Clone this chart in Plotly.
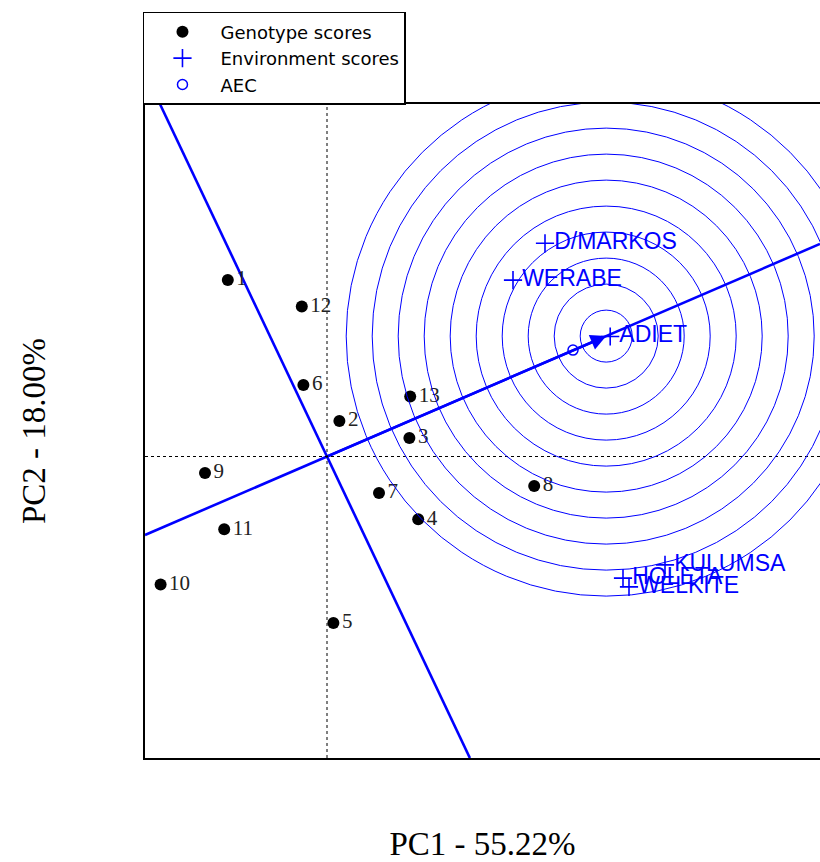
import plotly.graph_objects as go

# Genotype scores on the first two principal components
genotypes = ["1", "2", "3", "4", "5", "6", "7", "8", "9", "10", "11", "12", "13"]
gen_pc1 = [-2.48, 0.31, 2.06, 2.28, 0.16, -0.59, 1.30, 5.18, -3.05, -4.16, -2.57, -0.63, 2.08]
gen_pc2 = [4.41, 0.89, 0.46, -1.57, -4.16, 1.79, -0.91, -0.74, -0.41, -3.20, -1.82, 3.75, 1.50]

# Environment scores
environments = ["D/MARKOS", "WERABE", "ADIET", "KULUMSA", "HOLETA", "WELKITE"]
env_pc1 = [5.45, 4.65, 7.08, 8.45, 7.40, 7.55]
env_pc2 = [5.33, 4.41, 3.00, -2.71, -3.04, -3.26]

# Average environment coordinate and ideal environment on the AEC
aec_point = (6.15, 2.66)
ideal_env = (6.98, 3.01)
aec_ordinate_slope = -2.11
ring_radii = [0.65, 1.30, 1.95, 2.60, 3.25, 3.90, 4.55, 5.20, 5.85, 6.50]

x_range = [-4.55, 12.325]
y_range = [-7.5375, 8.8125]

BLUE = "#0000ff"
SANS = "Liberation Sans, Arial, sans-serif"
SERIF = "Liberation Serif, Times New Roman, serif"

fig = go.Figure()

# AEC abscissa through the origin and the ideal environment
slope = ideal_env[1] / ideal_env[0]
fig.add_trace(go.Scatter(
    x=[x_range[0], x_range[1]], y=[slope * x_range[0], slope * x_range[1]],
    mode="lines", line=dict(color=BLUE, width=2.6), showlegend=False, hoverinfo="skip"))

# AEC ordinate through the origin
fig.add_trace(go.Scatter(
    x=[y_range[1] / aec_ordinate_slope, y_range[0] / aec_ordinate_slope],
    y=[y_range[1], y_range[0]],
    mode="lines", line=dict(color=BLUE, width=2.6), showlegend=False, hoverinfo="skip"))

# Dotted reference axes through the origin
fig.add_trace(go.Scatter(
    x=[x_range[0], x_range[1]], y=[0, 0], mode="lines",
    line=dict(color="black", width=1, dash="dot"), showlegend=False, hoverinfo="skip"))
fig.add_trace(go.Scatter(
    x=[0, 0], y=[y_range[0], y_range[1]], mode="lines",
    line=dict(color="black", width=1, dash="dot"), showlegend=False, hoverinfo="skip"))

# Concentric rings around the ideal environment
for r in ring_radii:
    fig.add_shape(type="circle", xref="x", yref="y",
                  x0=ideal_env[0] - r, x1=ideal_env[0] + r,
                  y0=ideal_env[1] - r, y1=ideal_env[1] + r,
                  line=dict(color=BLUE, width=1), layer="above")

fig.add_trace(go.Scatter(
    x=gen_pc1, y=gen_pc2, mode="markers+text", name="Genotype scores",
    text=genotypes, textposition="middle right",
    textfont=dict(family=SERIF, size=21, color="#222222"),
    marker=dict(color="black", size=12, symbol="circle")))

fig.add_trace(go.Scatter(
    x=env_pc1, y=env_pc2, mode="markers+text", name="Environment scores",
    text=environments, textposition="middle right",
    textfont=dict(family=SANS, size=23, color=BLUE),
    marker=dict(color=BLUE, size=13, symbol="cross-thin", line=dict(color=BLUE, width=1.6))))

fig.add_trace(go.Scatter(
    x=[aec_point[0]], y=[aec_point[1]], mode="markers", name="AEC",
    marker=dict(color=BLUE, size=10, symbol="circle-open", line=dict(color=BLUE, width=1.5))))

# Arrow pointing to the ideal environment
fig.add_annotation(x=ideal_env[0], y=ideal_env[1], ax=0, ay=0, axref="x", ayref="y",
                   xref="x", yref="y", text="", showarrow=True, arrowhead=2,
                   arrowsize=1.2, arrowwidth=2.6, arrowcolor=BLUE)

fig.update_layout(
    width=820, height=862,
    margin=dict(l=145, r=0, t=104, b=104),
    paper_bgcolor="white", plot_bgcolor="white",
    font=dict(family=SANS, color="black"),
    legend=dict(x=-0.003, y=1.1407, xanchor="left", yanchor="top",
                bgcolor="white", bordercolor="black", borderwidth=1.5,
                font=dict(family="DejaVu Sans, sans-serif", size=18, color="black"),
                itemwidth=66, tracegroupgap=0),
    xaxis=dict(range=x_range, showgrid=False, zeroline=False, showticklabels=False,
               ticks="", showline=True, mirror=True, linecolor="black", linewidth=2,
               title=dict(text="PC1 - 55.22%", font=dict(family=SERIF, size=33), standoff=79)),
    yaxis=dict(range=y_range, showgrid=False, zeroline=False, showticklabels=False,
               ticks="", showline=True, mirror=False, linecolor="black", linewidth=2,
               title=dict(text="PC2 - 18.00%", font=dict(family=SERIF, size=33), standoff=87)),
)

fig.write_html("out.html")
